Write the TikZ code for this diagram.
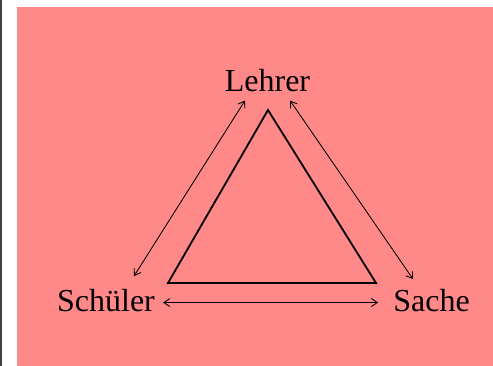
\documentclass[tikz,border=0pt]{standalone}
\usepackage{fontspec}
\setmainfont{Liberation Serif}
\usetikzlibrary{arrows.meta}
\definecolor{rosa}{RGB}{255,136,136}

\begin{document}
\begin{tikzpicture}[x=1pt,y=-1pt,>={Straight Barb[length=6pt,width=8pt]},
  rolle/.style={inner sep=0pt,anchor=base,font=\fontsize{32}{38}\selectfont},
  bezug/.style={<->,line width=0.85pt}]
  \useasboundingbox (0,0) rectangle (493,366);
  \fill[white] (0,0) rectangle (493,366);
  \fill[black!75] (0,0) rectangle (1.5,366);
  \fill[rosa] (17,7) rectangle (493,366);
  \node[rolle] (lehrer) at (267.5,92) {Lehrer};
  \node[rolle] (schueler) at (106,311.5) {Schüler};
  \node[rolle] (sache) at (431.5,311.5) {Sache};
  \draw[line width=1.8pt,miter limit=20] (168,283) -- (268,110) -- (376,283) -- cycle;
  \draw[bezug] ([xshift=-22.5pt,yshift=-8pt]lehrer.south) -- ([xshift=28pt,yshift=13pt]schueler.north);
  \draw[bezug] ([xshift=22.5pt,yshift=-8pt]lehrer.south) -- ([xshift=-18.5pt,yshift=10pt]sache.north);
  \draw[bezug] ([xshift=8pt,yshift=-2pt]schueler.east) -- ([xshift=-15pt,yshift=-2pt]sache.west);
\end{tikzpicture}
\end{document}
